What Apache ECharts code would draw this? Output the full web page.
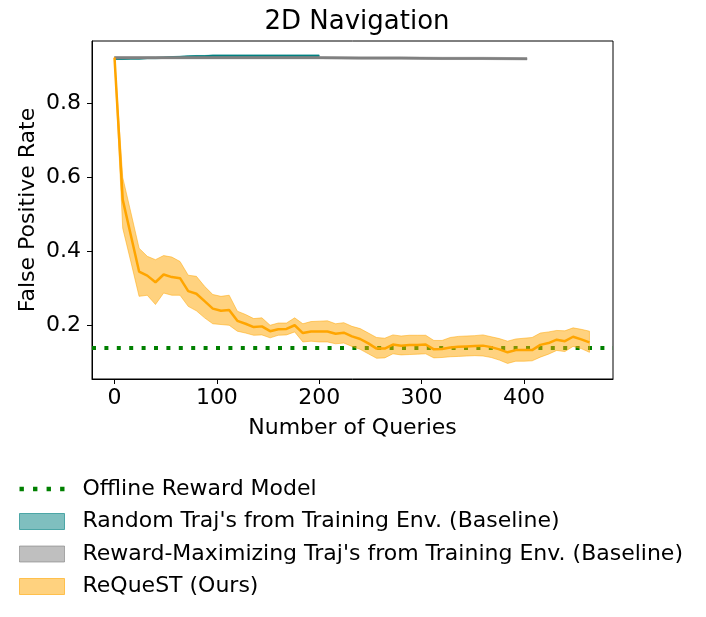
<!DOCTYPE html>
<html>
<head>
<meta charset="utf-8">
<script src="https://cdn.jsdelivr.net/npm/echarts@6/dist/echarts.min.js"></script>
<style>
html,body{margin:0;padding:0;background:#fff;}
#chart{width:706px;height:617px;}
</style>
</head>
<body>
<div id="chart"></div>
<script>
// ---- data ----
const titleText = '2D Navigation';
const xAxisName = 'Number of Queries';
const yAxisName = 'False Positive Rate';
const xTicks = [0, 100, 200, 300, 400];
const yTicks = [0.2, 0.4, 0.6, 0.8];
const xRange = [-22, 487];
const yRange = [0.056, 0.968];

const offlineName = 'Offline Reward Model';
const offlineValue = 0.135;

const randomName = "Random Traj's from Training Env. (Baseline)";
const randomX = [0,8,16,24,32,40,48,56,64,72,80,88,96,104,112,120,128,136,144,152,160,168,176,184,192,200];
const randomMean = [0.920,0.920,0.921,0.921,0.922,0.922,0.923,0.924,0.925,0.926,0.927,0.927,0.928,0.928,0.928,0.928,0.928,0.928,0.928,0.928,0.928,0.928,0.928,0.928,0.928,0.928];
const randomUpper = [0.922,0.922,0.923,0.923,0.924,0.924,0.925,0.926,0.927,0.928,0.929,0.929,0.930,0.930,0.930,0.930,0.930,0.930,0.930,0.930,0.930,0.930,0.930,0.930,0.930,0.930];
const randomLower = [0.918,0.918,0.919,0.919,0.920,0.920,0.921,0.922,0.923,0.924,0.925,0.925,0.926,0.926,0.926,0.926,0.926,0.926,0.926,0.926,0.926,0.926,0.926,0.926,0.926,0.926];

const rewardName = "Reward-Maximizing Traj's from Training Env. (Baseline)";
const rewardX = [0,40,80,120,160,200,240,280,320,360,403];
const rewardMean = [0.923,0.923,0.923,0.923,0.923,0.923,0.922,0.922,0.921,0.921,0.920];
const rewardUpper = [0.926,0.926,0.926,0.926,0.926,0.926,0.925,0.925,0.924,0.924,0.923];
const rewardLower = [0.920,0.920,0.920,0.920,0.920,0.920,0.919,0.919,0.918,0.918,0.917];

const requestName = 'ReQueST (Ours)';
const requestX = [0,8,16,24,32,40,48,56,64,72,80,88,96,104,112,120,128,136,144,152,160,168,176,184,192,200,208,216,224,232,240,248,256,264,272,280,288,296,304,312,320,328,336,344,352,360,368,376,384,392,400,408,416,424,432,440,448,456,464];
const requestMean = [0.923,0.540,0.443,0.346,0.335,0.317,0.338,0.331,0.328,0.293,0.286,0.266,0.246,0.240,0.242,0.213,0.205,0.196,0.198,0.185,0.190,0.191,0.201,0.180,0.184,0.184,0.184,0.178,0.181,0.171,0.164,0.152,0.138,0.138,0.149,0.146,0.148,0.148,0.149,0.136,0.137,0.141,0.143,0.144,0.145,0.146,0.142,0.136,0.128,0.134,0.134,0.134,0.148,0.153,0.162,0.158,0.170,0.163,0.155];
const requestUpper = [0.925,0.600,0.505,0.409,0.387,0.378,0.389,0.385,0.373,0.336,0.333,0.306,0.284,0.279,0.282,0.239,0.230,0.219,0.221,0.201,0.207,0.207,0.221,0.205,0.211,0.212,0.213,0.205,0.208,0.198,0.192,0.180,0.168,0.166,0.175,0.172,0.174,0.174,0.174,0.160,0.160,0.168,0.171,0.172,0.173,0.175,0.170,0.165,0.158,0.164,0.166,0.168,0.180,0.183,0.187,0.186,0.194,0.190,0.185];
const requestLower = [0.921,0.463,0.372,0.279,0.282,0.257,0.288,0.282,0.282,0.252,0.240,0.221,0.205,0.203,0.201,0.185,0.180,0.174,0.175,0.167,0.174,0.175,0.183,0.156,0.158,0.156,0.156,0.151,0.153,0.144,0.136,0.124,0.112,0.113,0.124,0.121,0.122,0.123,0.124,0.113,0.114,0.116,0.117,0.118,0.119,0.118,0.114,0.107,0.098,0.104,0.104,0.105,0.115,0.123,0.133,0.130,0.144,0.138,0.128];

// ---- helpers ----
const FONT = 'DejaVu Sans';
function pairs(xs, ys){ return xs.map((x,i)=>[x, ys[i]]); }
function bandSeries(name, xs, up, lo, fill, z){
  return {
    name: name, type: 'custom', z: z, silent: true,
    clip: true,
    data: [[xs[0], up[0]]],
    renderItem: function(params, api){
      const pts = [];
      for (let i=0;i<xs.length;i++) pts.push(api.coord([xs[i], up[i]]));
      for (let i=xs.length-1;i>=0;i--) pts.push(api.coord([xs[i], lo[i]]));
      return {type:'polygon', shape:{points:pts}, style:{fill:fill, stroke:fill, lineWidth:1}};
    }
  };
}
function lineSeries(name, xs, ys, color, width, z){
  return {name:name, type:'line', data:pairs(xs, ys), symbol:'none', z:z, silent:true,
    lineStyle:{color:color, width:width}, itemStyle:{color:color}, clip:true};
}

const chart = echarts.init(document.getElementById('chart'), null, {renderer:'canvas'});
const option = {
  animation: false,
  backgroundColor: '#ffffff',
  title: {text: titleText, left: 352, top: 4, textAlign: 'center',
    textStyle:{fontFamily:FONT, fontSize:26, fontWeight:'normal', color:'#000'}},
  grid: {left: 92, top: 41, width: 521, height: 338, show: true, borderColor:'#000', borderWidth:1, containLabel:false},
  xAxis: {
    type:'value', min:xRange[0], max:xRange[1],
    name: xAxisName, nameLocation:'middle', nameGap: 38, nameMoveOverlap: false,
    nameTextStyle:{fontFamily:FONT, fontSize:22, color:'#000'},
    splitLine:{show:false},
    axisLine:{show:true, onZero:false, lineStyle:{color:'#000', width:1}},
    axisTick:{show:true, inside:false, length:5, lineStyle:{color:'#000'}, customValues:xTicks},
    axisLabel:{show:true, margin:8, fontFamily:FONT, fontSize:22, color:'#000', customValues:xTicks,
      formatter: v => String(v)}
  },
  yAxis: {
    type:'value', min:yRange[0], max:yRange[1],
    name: yAxisName, nameLocation:'middle', nameGap: 53, nameRotate: 90, nameMoveOverlap: false,
    nameTextStyle:{fontFamily:FONT, fontSize:22, color:'#000'},
    splitLine:{show:false},
    axisLine:{show:true, onZero:false, lineStyle:{color:'#000', width:1}},
    axisTick:{show:true, inside:false, length:5, lineStyle:{color:'#000'}, customValues:yTicks},
    axisLabel:{show:true, margin:11, fontFamily:FONT, fontSize:22, color:'#000', customValues:yTicks,
      formatter: v => v.toFixed(1)}
  },
  legend: {
    orient:'vertical', left: 14, top: 473, height: 300, itemWidth:45, itemHeight:16, itemGap:10.5,
    selectedMode:false,
    textStyle:{fontFamily:FONT, fontSize:22, color:'#000', padding:[0,0,0,13]},
    data:[
      {name: offlineName, icon:'path://M0,0h4.3v4.3h-4.3zM13.3,0h4.3v4.3h-4.3zM26.6,0h4.3v4.3h-4.3zM39.9,0h4.3v4.3h-4.3z', itemStyle:{color:'#008000', borderWidth:0}},
      {name: randomName, icon:'rect', itemStyle:{color:'rgba(0,128,128,0.5)', borderColor:'rgba(0,128,128,0.6)', borderWidth:1}},
      {name: rewardName, icon:'rect', itemStyle:{color:'rgba(128,128,128,0.5)', borderColor:'rgba(128,128,128,0.6)', borderWidth:1}},
      {name: requestName, icon:'rect', itemStyle:{color:'rgba(255,165,0,0.5)', borderColor:'rgba(255,165,0,0.6)', borderWidth:1}}
    ]
  },
  series: [
    {
      name: offlineName, type:'line', data:[], symbol:'none', z:10,
      lineStyle:{color:'#008000'}, itemStyle:{color:'#008000'},
      markLine:{silent:true, symbol:'none', label:{show:false}, animation:false,
        lineStyle:{color:'#008000', width:4, type:[4,8.4], cap:'butt'},
        data:[{yAxis: offlineValue}]}
    },
    bandSeries(randomName, randomX, randomUpper, randomLower, 'rgba(0,128,128,0.5)', 2),
    lineSeries('random-mean', randomX, randomMean, '#008080', 2, 3),
    bandSeries(rewardName, rewardX, rewardUpper, rewardLower, 'rgba(128,128,128,0.5)', 4),
    lineSeries('reward-mean', rewardX, rewardMean, '#808080', 2.5, 5),
    bandSeries(requestName, requestX, requestUpper, requestLower, 'rgba(255,165,0,0.5)', 6),
    lineSeries('request-mean', requestX, requestMean, '#FFA500', 2.5, 7)
  ]
};
chart.setOption(option);
</script>
</body>
</html>
